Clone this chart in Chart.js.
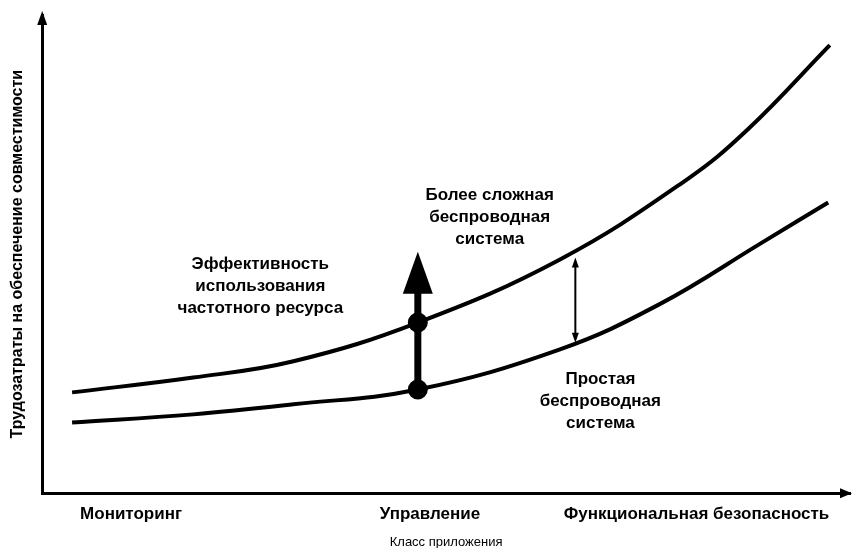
<!DOCTYPE html>
<html>
<head>
<meta charset="utf-8">
<script src="https://cdn.jsdelivr.net/npm/chart.js@4/dist/chart.umd.min.js"></script>
<style>
  html, body { margin: 0; padding: 0; background: #fff; }
  #wrap { width: 852px; height: 548px; }
</style>
</head>
<body>
<div id="wrap"><canvas id="myChart"></canvas></div>
<script>
// categories on the x axis and where they sit on the (0..10) scale
const categories = ['Мониторинг', 'Управление', 'Функциональная безопасность'];
const categoryPos = [1.1, 4.8, 8.1];

// more complex wireless system (upper curve)
const upperX = [0.37, 1.87, 3.11, 4.65, 6.41, 7.98, 8.73, 9.75];
const upperY = [2.11, 2.42, 2.76, 3.57, 4.89, 6.56, 7.60, 9.37];
// simple wireless system (lower curve)
const lowerX = [0.37, 1.87, 3.11, 4.65, 6.41, 7.65, 8.89, 9.73];
const lowerY = [1.48, 1.65, 1.86, 2.17, 3.01, 3.96, 5.22, 6.08];
const markIndex = 3;

// arrows: [x, yFrom, yTo]
const bigArrow = [4.65, 2.17, 5.05];
const gapArrow = [6.60, 3.15, 4.93];

// annotation texts: [x, y, lines]
const notes = [
  [5.54, 6.24, ['Более сложная', 'беспроводная', 'система']],
  [2.70, 4.78, ['Эффективность', 'использования', 'частотного ресурса']],
  [6.91, 2.38, ['Простая', 'беспроводная', 'система']]
];

const FONT = "'Liberation Sans', Arial, sans-serif";

function toPoints(xs, ys) {
  const pts = [];
  for (let i = 0; i < xs.length; i++) {
    pts.push({x: xs[i], y: ys[i]});
  }
  return pts;
}

function radii(n) {
  const r = [];
  for (let i = 0; i < n; i++) r.push(i === markIndex ? 8 : 0);
  return r;
}

const extras = {
  id: 'extras',
  afterDatasetsDraw(chart) {
    const ctx = chart.ctx;
    const xs = chart.scales.x, ys = chart.scales.y;
    const a = chart.chartArea;
    ctx.save();
    ctx.fillStyle = '#000';
    ctx.strokeStyle = '#000';

    // axis arrowheads
    ctx.beginPath();
    ctx.moveTo(a.left, a.top - 4);
    ctx.lineTo(a.left - 5, a.top + 10);
    ctx.lineTo(a.left + 5, a.top + 10);
    ctx.closePath();
    ctx.fill();
    ctx.beginPath();
    ctx.moveTo(a.right + 2, a.bottom);
    ctx.lineTo(a.right - 10, a.bottom - 5);
    ctx.lineTo(a.right - 10, a.bottom + 5);
    ctx.closePath();
    ctx.fill();

    // big arrow
    let x = xs.getPixelForValue(bigArrow[0]);
    let y0 = ys.getPixelForValue(bigArrow[1]);
    let y1 = ys.getPixelForValue(bigArrow[2]);
    ctx.lineWidth = 7;
    ctx.beginPath();
    ctx.moveTo(x, y0);
    ctx.lineTo(x, y1 + 38);
    ctx.stroke();
    ctx.beginPath();
    ctx.moveTo(x, y1);
    ctx.lineTo(x - 15, y1 + 42);
    ctx.lineTo(x + 15, y1 + 42);
    ctx.closePath();
    ctx.fill();

    // double arrow between curves
    x = xs.getPixelForValue(gapArrow[0]);
    y0 = ys.getPixelForValue(gapArrow[1]);
    y1 = ys.getPixelForValue(gapArrow[2]);
    ctx.lineWidth = 2;
    ctx.beginPath();
    ctx.moveTo(x, y0 - 4);
    ctx.lineTo(x, y1 + 4);
    ctx.stroke();
    ctx.beginPath();
    ctx.moveTo(x, y1);
    ctx.lineTo(x - 3.5, y1 + 10);
    ctx.lineTo(x + 3.5, y1 + 10);
    ctx.closePath();
    ctx.fill();
    ctx.beginPath();
    ctx.moveTo(x, y0);
    ctx.lineTo(x - 3.5, y0 - 10);
    ctx.lineTo(x + 3.5, y0 - 10);
    ctx.closePath();
    ctx.fill();

    // annotation texts
    ctx.font = 'bold 17px ' + FONT;
    ctx.textAlign = 'center';
    ctx.textBaseline = 'middle';
    for (let i = 0; i < notes.length; i++) {
      const nx = xs.getPixelForValue(notes[i][0]);
      const ny = ys.getPixelForValue(notes[i][1]);
      const lines = notes[i][2];
      for (let j = 0; j < lines.length; j++) {
        ctx.fillText(lines[j], nx, ny + j * 22);
      }
    }
    ctx.restore();
  }
};

const data = {
  datasets: [
    {
      label: 'Более сложная беспроводная система',
      data: toPoints(upperX, upperY),
      borderColor: '#000',
      backgroundColor: '#000',
      borderWidth: 4,
      pointRadius: radii(upperX.length),
      tension: 0.4
    },
    {
      label: 'Простая беспроводная система',
      data: toPoints(lowerX, lowerY),
      borderColor: '#000',
      backgroundColor: '#000',
      borderWidth: 4,
      pointRadius: radii(lowerX.length),
      tension: 0.4
    }
  ]
};

const config = {
  type: 'line',
  data: data,
  plugins: [extras],
  options: {
    responsive: true,
    maintainAspectRatio: false,
    animation: false,
    layout: { padding: { left: 8, top: 15, right: 2, bottom: 0 } },
    plugins: { legend: { display: false }, tooltip: { enabled: false } },
    scales: {
      x: {
        type: 'linear',
        min: 0,
        max: 10,
        afterBuildTicks(scale) {
          scale.ticks = categoryPos.map(v => ({value: v}));
        },
        grid: { display: false, drawTicks: false },
        border: { display: true, color: '#000', width: 3 },
        ticks: {
          color: '#000',
          padding: 13,
          maxRotation: 0,
          autoSkip: false,
          font: { family: FONT, size: 17, weight: 'bold', lineHeight: 1 },
          callback: function(v) {
            const i = categoryPos.indexOf(v);
            return i >= 0 ? categories[i] : '';
          }
        },
        title: {
          display: true,
          text: 'Класс приложения',
          color: '#000',
          padding: { top: 0, bottom: 0 },
          font: { family: FONT, size: 13, lineHeight: 0.9 }
        }
      },
      y: {
        type: 'linear',
        min: 0,
        max: 10,
        grid: { display: false, drawTicks: false },
        border: { display: true, color: '#000', width: 3 },
        ticks: { display: false },
        title: {
          display: true,
          text: 'Трудозатраты на обеспечение совместимости',
          color: '#000',
          padding: { top: 0, bottom: 15 },
          font: { family: FONT, size: 16, weight: 'bold' }
        }
      }
    }
  }
};

const myChart = new Chart(document.getElementById('myChart'), config);
</script>
</body>
</html>
